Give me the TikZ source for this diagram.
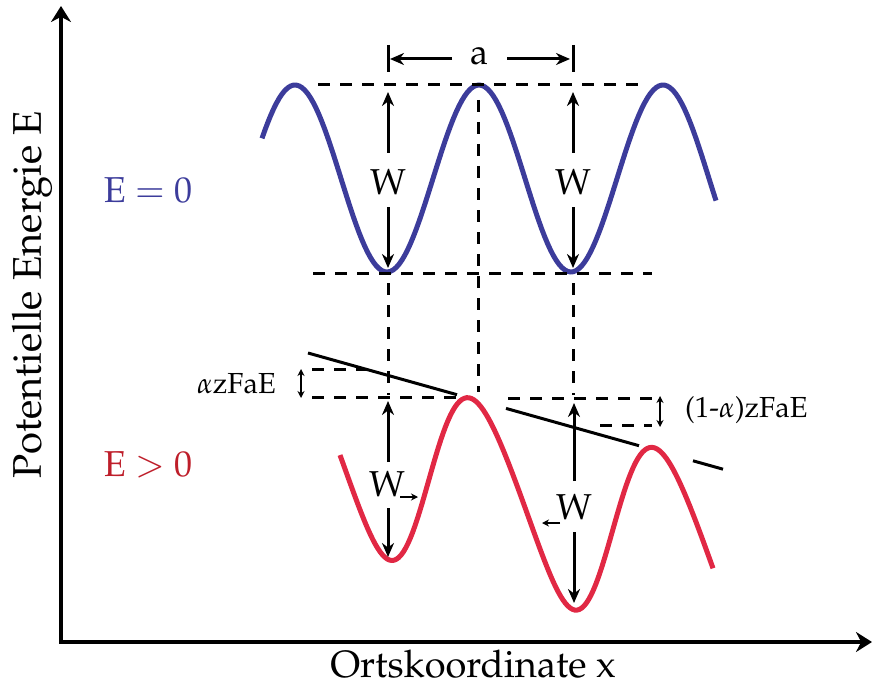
\documentclass[tikz,border=0pt]{standalone}
\usepackage[T1]{fontenc}
\usepackage{mathpazo}
\usetikzlibrary{arrows.meta}

\definecolor{wellblue}{RGB}{60,60,155}
\definecolor{wellred}{RGB}{225,40,68}
\definecolor{labelred}{RGB}{190,30,42}

\tikzset{
  axisline/.style={line width=4.5pt, line join=miter, {Stealth[length=16pt,width=20pt]}-{Stealth[length=16pt,width=20pt]}},
  guide/.style={line width=3pt, dash pattern=on 12pt off 10pt},
  tilt/.style={line width=3pt},
  warr/.style={line width=3pt, -{Stealth[length=14pt,width=12pt]}},
  smallarr/.style={line width=2pt, -{Stealth[length=7pt,width=7pt]}},
  duoarr/.style={line width=2pt, {Stealth[length=7pt,width=7pt]}-{Stealth[length=7pt,width=7pt]}},
  axislabel/.style={font=\fontsize{40}{46}\selectfont, inner sep=0pt},
  big/.style={font=\fontsize{36}{42}\selectfont, inner sep=0pt},
  small/.style={font=\fontsize{29}{34}\selectfont, inner sep=0pt}
}

\begin{document}
\begin{tikzpicture}[x=1pt, y=-1pt]
  \useasboundingbox (0,0) rectangle (872,687);

  % axes
  \coordinate (ytip) at (61,6);
  \coordinate (origin) at (61,642);
  \coordinate (xtip) at (872,642);
  \draw[axisline] (ytip) -- (origin) -- (xtip);
  \node[axislabel, font=\fontsize{38}{44}\selectfont] (xlabel) at (473,664) {Ortskoordinate x};
  \node[axislabel, rotate=90] (ylabel) at (32,295) {Potentielle Energie E};

  % potentials
  \node[big, text=wellblue] (ezero) at (148,190) {E $=$ 0};
  \node[big, text=labelred] (epos) at (148,465) {E $>$ 0};
  \draw[wellblue, line width=5pt] plot[domain=262:716, samples=160]
    (\x, {178.5-93.5*cos((\x-479)/184*360)});
  \draw[wellred, line width=5pt] plot[domain=340:713, samples=160]
    (\x, {489.9+0.27*(\x-470)-91.9*cos((\x-470)/184*360-12.2*(1-cos((\x-470)/184*360)))});

  % field line
  \draw[tilt] (308,353) -- (457,394.7);
  \draw[tilt] (506,408.4) -- (639,445.7);
  \draw[tilt] (693,460.8) -- (723,469.2);

  % guide lines
  \draw[guide] (318,85) -- (645,85);
  \draw[guide] (313,273) -- (652,273);
  \draw[guide] (312,369) -- (366,369);
  \draw[guide] (312,397) -- (456,397);
  \draw[guide] (508,398) -- (652,398);
  \draw[guide] (600,425) -- (652,425);
  \draw[guide] (388,283) -- (388,395);
  \draw[guide] (478,100) -- (478,392);
  \draw[guide] (573,283) -- (573,395);
  \draw[line width=3pt] (388,45) -- (388,72);
  \draw[line width=3pt] (573,45) -- (573,72);

  % lattice constant
  \node[big] (alabel) at (479,56) {a};
  \coordinate (aleft) at (390,59);
  \coordinate (aright) at (570,59);
  \draw[warr] (452,59) -- (aleft);
  \draw[warr] (507,59) -- (aright);

  % barriers E = 0
  \node[big] (wa) at (388,182) {W};
  \node[big] (wb) at (573,182) {W};
  \coordinate (watop) at (388,92);
  \coordinate (wabot) at (388,268);
  \coordinate (wbtop) at (573,92);
  \coordinate (wbbot) at (573,268);
  \draw[warr] (388,153) -- (watop);
  \draw[warr] (388,207) -- (wabot);
  \draw[warr] (573,153) -- (wbtop);
  \draw[warr] (573,207) -- (wbbot);

  % barriers E > 0
  \node[big] (wc) at (387,484) {W};
  \node[big] (wd) at (574,507) {W};
  \coordinate (wctop) at (388,401);
  \coordinate (wcbot) at (388,557);
  \coordinate (wdtop) at (574,403);
  \coordinate (wdbot) at (574,603);
  \draw[warr] (388,462) -- (wctop);
  \draw[warr] (388,508) -- (wcbot);
  \draw[warr] (574,481) -- (wdtop);
  \draw[warr] (574,532) -- (wdbot);
  \coordinate (wcr) at (418,497);
  \coordinate (wdl) at (542,523);
  \draw[smallarr] (400,497) -- (wcr);
  \draw[smallarr] (560,523) -- (wdl);

  % field contributions
  \node[small, anchor=east] (alpha) at (276,384) {$\alpha$zFaE};
  \node[small, anchor=west] (oneminus) at (685,410) {(1-$\alpha$)zFaE};
  \coordinate (alphatop) at (301,369);
  \coordinate (alphabot) at (301,398);
  \coordinate (omtop) at (660,396);
  \coordinate (ombot) at (660,427);
  \draw[duoarr] (alphatop) -- (alphabot);
  \draw[duoarr] (omtop) -- (ombot);
\end{tikzpicture}
\end{document}
